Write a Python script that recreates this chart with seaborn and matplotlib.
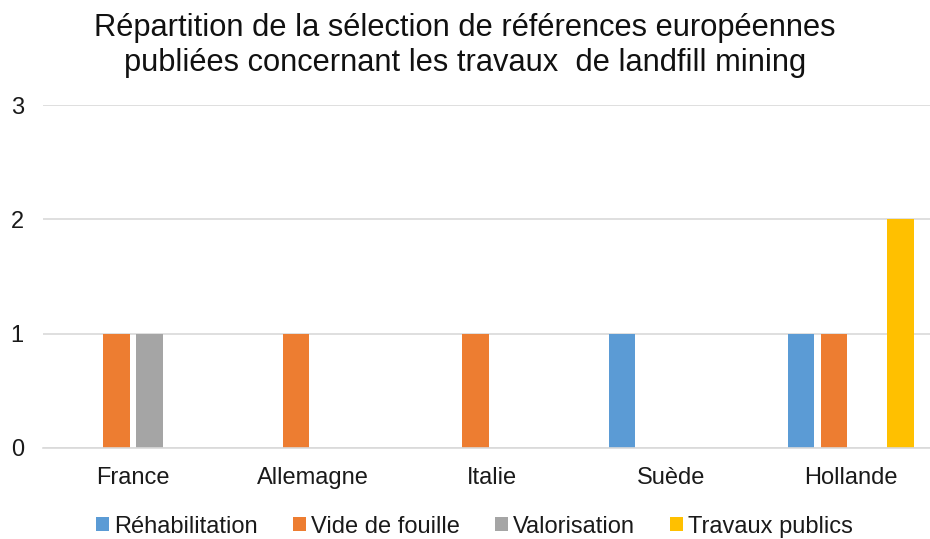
import matplotlib
matplotlib.use("Agg")
import matplotlib.pyplot as plt
import seaborn as sns
import pandas as pd
from matplotlib.patches import Patch

countries = ["France", "Allemagne", "Italie", "Suède", "Hollande"]
series = ["Réhabilitation", "Vide de fouille", "Valorisation", "Travaux publics"]
rehabilitation = [0, 0, 0, 1, 1]
vide_de_fouille = [1, 1, 1, 0, 1]
valorisation = [1, 0, 0, 0, 0]
travaux_publics = [0, 0, 0, 0, 2]
colors = ["#5B9BD5", "#ED7D31", "#A5A5A5", "#FFC000"]
yticks = [0, 1, 2, 3]

rows = []
for s, vals in zip(series, [rehabilitation, vide_de_fouille, valorisation, travaux_publics]):
    for c, v in zip(countries, vals):
        rows.append({"Pays": c, "Série": s, "Valeur": v})
df = pd.DataFrame(rows)

sns.set_theme(style="white")
plt.rcParams["font.family"] = ["Liberation Sans", "DejaVu Sans"]

fig = plt.figure(figsize=(9.3, 5.39), dpi=100)
ax = fig.add_axes([0.0465, 0.169, 0.965, 0.636])

sns.barplot(data=df, x="Pays", y="Valeur", hue="Série", order=countries,
            hue_order=series, palette=colors, width=0.736, gap=0.21,
            saturation=1, legend=False, ax=ax, linewidth=0)

ax.set_ylim(0, 3)
ax.set_xlim(-0.5, 4.5)
ax.set_yticks(yticks)
ax.set_yticklabels([str(t) for t in yticks])
ax.yaxis.grid(True, color="#D9D9D9", linewidth=1.2)
ax.set_axisbelow(True)
for sp in ["top", "right", "left"]:
    ax.spines[sp].set_visible(False)
ax.spines["bottom"].set_color("#D9D9D9")
ax.spines["bottom"].set_linewidth(1.2)
ax.tick_params(axis="both", length=0, labelsize=17, colors="#1a1a1a")
ax.tick_params(axis="y", pad=14)
ax.tick_params(axis="x", pad=14)
ax.set_xlabel("")
ax.set_ylabel("")

fig.text(0.5, 0.976, "Répartition de la sélection de références européennes\npubliées concernant les travaux  de landfill mining",
         ha="center", va="top", fontsize=22.2, color="#111111", linespacing=1.2)

handles = [Patch(facecolor=c, edgecolor="none", label=s) for c, s in zip(colors, series)]
fig.legend(handles=handles, loc="center", bbox_to_anchor=(0.51, 0.023), ncol=4,
           frameon=False, fontsize=17, handlelength=0.55, handleheight=0.55,
           handletextpad=0.2, columnspacing=1.5, labelcolor="#1a1a1a",
           borderaxespad=0, borderpad=0)

fig.savefig("out.png", dpi=100)
